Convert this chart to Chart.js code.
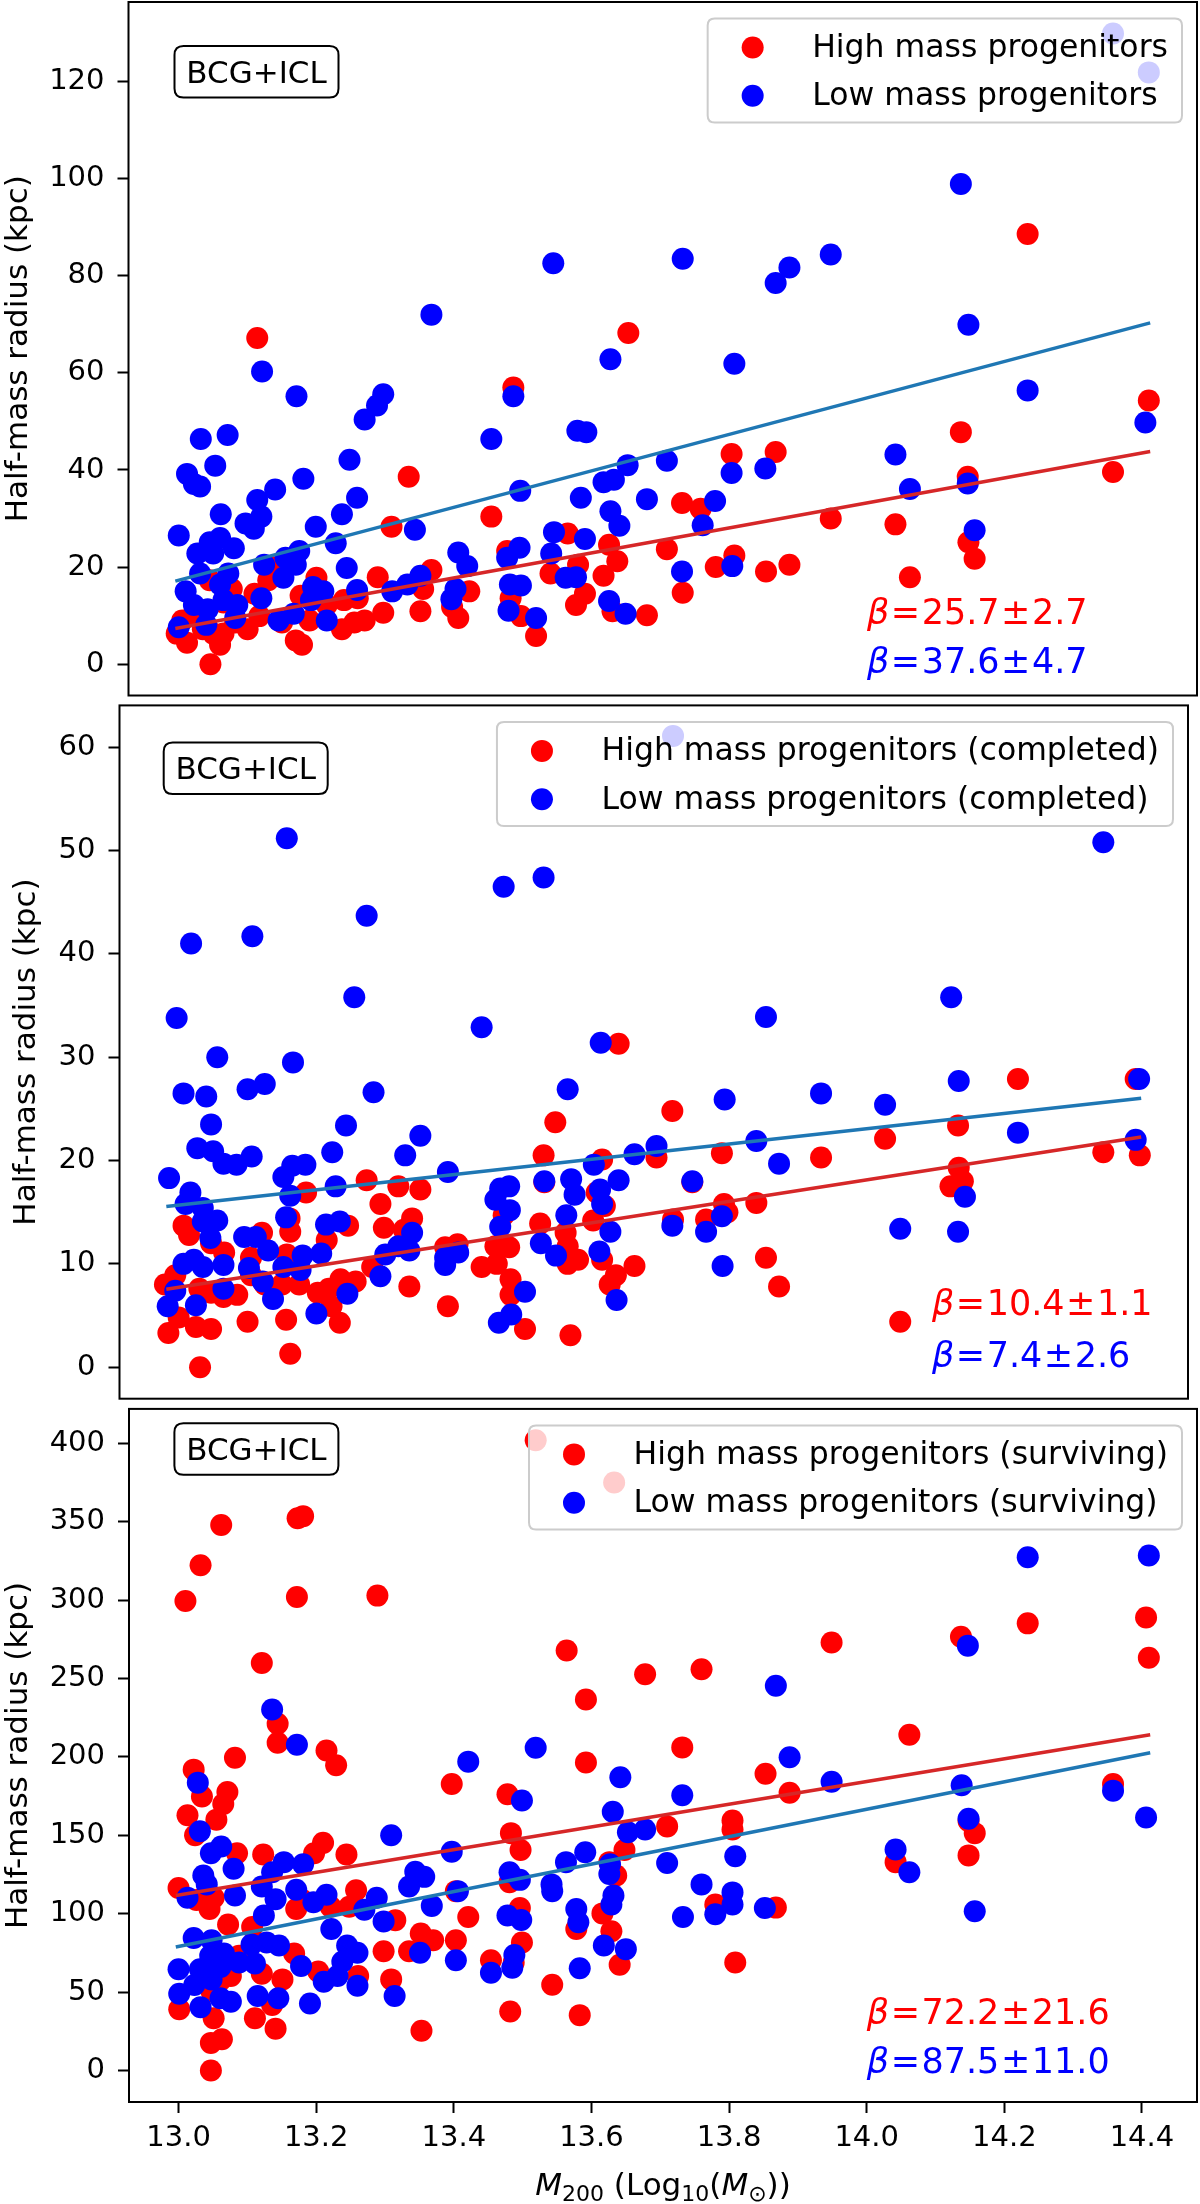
<!DOCTYPE html>
<html lang="en">
<head>
<meta charset="UTF-8">
<title>Half-mass radius vs M200</title>
<style>
  body { margin: 0; background: #fff; }
  .panel { position: absolute; left: 0; width: 1200px; }
  .panel canvas { display: block; }
</style>
<script src="https://cdn.jsdelivr.net/npm/chart.js"></script>
</head>
<body>
<div class="panel" style="top:0;height:700px"><canvas id="c1" width="1200" height="700"></canvas></div>
<div class="panel" style="top:700px;height:700px"><canvas id="c2" width="1200" height="700"></canvas></div>
<div class="panel" style="top:1400px;height:804px"><canvas id="c3" width="1200" height="804"></canvas></div>
<script>
// shared x axis
const xRange = [12.928, 14.48];
const xTicks = [13.0, 13.2, 13.4, 13.6, 13.8, 14.0, 14.2, 14.4];
const fitX = [12.996, 14.412];

// panel 1 : all progenitors
const hi1 = [[13.115,67.2],[13.335,38.6],[13.31,28.3],[13.455,30.4],[13.487,57.0],[13.654,68.2],[13.29,17.9],[13.368,19.4],[13.566,26.9],[13.626,24.6],[13.638,21.2],[13.541,18.7],[13.618,18.2],[13.581,20.5],[13.591,14.5],[13.578,12.2],[13.483,13.6],[13.498,9.9],[13.481,11.3],[13.52,5.8],[13.631,10.9],[13.423,15.0],[13.407,9.5],[13.398,11.8],[13.352,10.9],[13.356,15.5],[13.298,10.6],[13.271,9.0],[13.256,8.6],[13.238,7.2],[13.261,13.6],[13.241,13.2],[13.216,12.2],[13.201,17.8],[13.18,4.0],[13.171,4.9],[13.191,9.0],[13.178,14.1],[13.136,20.0],[13.151,8.6],[13.118,9.9],[13.111,14.5],[13.101,7.2],[13.083,8.6],[13.061,4.0],[13.047,0.0],[13.051,6.3],[13.036,7.2],[13.013,4.4],[12.998,6.3],[13.021,9.9],[13.066,12.7],[13.078,15.5],[13.046,17.3],[13.006,9.0],[13.066,6.3],[13.031,9.5],[13.206,14.5],[13.131,17.3],[13.478,23.3],
  [14.234,88.6],[14.41,54.3],[14.137,47.8],[13.804,43.3],[13.868,43.7],[13.732,33.2],[13.759,32.0],[14.147,38.6],[14.358,39.6],[13.948,30.0],[14.042,28.8],[13.71,23.7],[13.808,22.4],[13.781,20.0],[13.854,19.1],[13.888,20.5],[13.733,14.7],[13.681,10.1],[14.148,25.1],[14.157,21.7],[14.063,17.9]];
const lo1 = [[13.545,82.6],[13.368,72.0],[13.628,62.8],[13.487,55.2],[13.122,60.3],[13.172,55.2],[13.298,55.6],[13.289,53.3],[13.271,50.4],[13.033,46.4],[13.072,47.2],[13.455,46.4],[13.58,48.1],[13.593,47.8],[13.054,40.9],[13.013,39.2],[13.023,37.1],[13.032,36.6],[13.249,42.1],[13.182,38.2],[13.141,36.0],[13.115,33.8],[13.653,41.0],[13.618,37.5],[13.633,38.0],[13.497,35.7],[13.26,34.3],[13.585,34.3],[13.681,34.0],[13.062,30.9],[13.001,26.5],[13.098,29.0],[13.121,30.4],[13.11,27.9],[13.2,28.3],[13.238,30.9],[13.229,24.9],[13.344,27.7],[13.628,31.5],[13.641,28.5],[13.546,27.2],[13.591,25.8],[13.028,22.8],[13.046,25.1],[13.061,26.0],[13.081,23.9],[13.051,22.8],[13.032,18.7],[13.073,18.7],[13.011,15.0],[13.061,16.4],[13.023,12.2],[13.043,11.3],[13.066,13.2],[13.086,12.2],[13.001,7.6],[13.041,8.1],[13.083,9.5],[13.125,20.5],[13.156,21.9],[13.176,23.3],[13.171,20.5],[13.153,17.8],[13.121,13.6],[13.146,9.0],[13.168,10.4],[13.196,15.9],[13.211,15.0],[13.193,13.2],[13.216,9.0],[13.245,19.8],[13.26,15.3],[13.311,15.0],[13.333,16.4],[13.352,18.2],[13.407,23.0],[13.42,20.2],[13.403,15.5],[13.397,13.4],[13.478,21.9],[13.496,24.0],[13.542,22.8],[13.563,17.8],[13.578,17.9],[13.482,16.4],[13.498,16.2],[13.48,11.0],[13.52,9.5],[13.626,13.0],[13.65,10.4],
  [14.358,129.9],[14.41,121.9],[14.137,98.9],[13.948,84.4],[13.733,83.5],[13.888,81.7],[13.868,78.5],[14.148,69.9],[13.808,61.9],[14.234,56.4],[14.405,49.8],[13.71,41.9],[14.042,43.2],[13.804,39.4],[13.853,40.3],[13.78,33.6],[13.762,28.6],[14.063,36.1],[14.147,37.2],[14.157,27.6],[13.732,19.1],[13.805,20.2]];
const fitHi1 = [7.35, 43.8];
const fitLo1 = [17.1, 70.3];
const yTicks1 = [0, 20, 40, 60, 80, 100, 120];
const names1 = ['High mass progenitors', 'Low mass progenitors'];
const betas1 = ['25.7±2.7', '37.6±4.7'];

// panel 2 : completed
const hi2 = [[13.561,23.7],[13.653,31.3],[13.544,20.5],[13.629,20.1],[13.287,18.1],[13.333,17.5],[13.365,17.2],[13.199,16.9],[13.545,17.9],[13.621,16.9],[13.307,15.8],[13.175,14.4],[13.021,13.7],[13.353,14.4],[13.486,14.7],[13.26,13.7],[13.312,13.5],[13.341,13.3],[13.029,12.8],[13.176,13.1],[13.135,13.0],[13.229,12.3],[13.539,13.9],[13.576,13.0],[13.616,14.2],[13.633,15.6],[13.061,12.0],[13.08,11.1],[13.119,10.6],[13.171,10.9],[13.401,11.6],[13.419,11.9],[13.474,11.7],[13.494,11.6],[13.579,11.7],[13.594,10.4],[13.579,10.0],[13.629,10.4],[13.676,9.8],[13.649,8.9],[13.64,8.0],[13.454,9.7],[13.476,10.0],[13.295,9.7],[13.271,8.3],[13.249,8.5],[13.232,7.6],[13.216,7.2],[13.189,8.0],[13.164,8.0],[13.139,8.0],[13.119,8.9],[13.099,7.0],[13.079,6.8],[13.061,7.2],[13.044,7.6],[13.009,8.9],[12.994,8.0],[13.014,4.8],[12.999,3.3],[13.039,3.9],[13.061,3.7],[13.114,4.4],[13.17,4.6],[13.176,1.3],[13.045,0.0],[13.236,5.9],[13.248,4.3],[13.349,7.8],[13.405,5.9],[13.496,8.5],[13.496,7.0],[13.517,3.7],[13.583,3.1],
  [14.233,27.9],[14.404,27.9],[13.731,24.8],[14.146,23.4],[14.04,22.1],[13.708,20.3],[13.803,20.7],[13.947,20.3],[14.357,20.8],[14.41,20.5],[14.147,19.3],[14.135,17.5],[14.153,18.0],[13.76,17.9],[13.806,15.8],[13.853,15.9],[13.732,14.3],[13.78,14.3],[13.811,15.0],[13.867,10.6],[13.886,7.8],[14.062,4.4]];
const lo2 = [[13.171,51.2],[13.486,46.5],[13.544,47.4],[13.287,43.7],[13.032,41.0],[13.121,41.7],[13.269,35.8],[13.011,33.8],[13.454,32.9],[13.627,31.4],[13.07,30.0],[13.18,29.5],[13.021,26.5],[13.054,26.2],[13.114,26.9],[13.139,27.4],[13.297,26.6],[13.579,26.9],[13.061,23.5],[13.257,23.4],[13.365,22.4],[13.041,21.2],[13.064,20.9],[13.079,19.7],[13.098,19.6],[13.12,20.4],[13.237,20.8],[13.343,20.5],[13.0,18.3],[13.166,18.4],[13.179,19.5],[13.198,19.6],[13.031,16.9],[13.024,15.8],[13.049,15.4],[13.405,18.9],[13.617,19.6],[13.676,20.6],[13.545,18.0],[13.584,18.2],[13.653,18.1],[13.626,17.2],[13.589,16.7],[13.481,17.3],[13.494,17.5],[13.474,16.2],[13.495,15.2],[13.629,15.8],[13.176,16.6],[13.242,17.5],[13.049,14.1],[13.07,14.2],[13.17,14.5],[13.228,13.8],[13.248,14.1],[13.577,14.7],[13.481,13.6],[13.641,13.1],[13.06,12.5],[13.353,13.0],[13.109,12.6],[13.126,12.6],[13.144,11.3],[13.54,12.0],[13.562,10.8],[13.625,11.2],[13.021,10.0],[13.036,10.4],[13.049,9.7],[13.079,9.9],[13.116,9.6],[13.166,9.7],[13.194,10.8],[13.221,11.0],[13.191,9.4],[13.314,10.9],[13.333,11.7],[13.349,11.3],[13.401,10.6],[13.42,11.1],[13.401,9.9],[13.307,8.8],[13.009,7.4],[13.079,7.6],[13.136,8.3],[13.151,6.6],[13.259,7.1],[12.998,5.9],[13.039,6.0],[13.517,7.3],[13.65,6.5],[13.497,5.1],[13.479,4.3],[13.214,5.2],
  [13.732,61.1],[14.357,50.8],[14.136,35.8],[13.867,33.9],[13.807,25.9],[13.947,26.5],[14.04,25.4],[14.147,27.7],[14.409,27.9],[14.233,22.7],[14.404,22.0],[13.708,21.4],[13.853,21.9],[13.886,19.7],[13.76,18.0],[13.803,14.6],[13.731,13.7],[13.78,13.1],[14.156,16.5],[14.062,13.4],[14.146,13.1],[13.804,9.8]];
const fitHi2 = [7.54, 22.28];
const fitLo2 = [15.56, 26.03];
const yTicks2 = [0, 10, 20, 30, 40, 50, 60];
const names2 = ['High mass progenitors (completed)', 'Low mass progenitors (completed)'];
const betas2 = ['10.4±1.1', '7.4±2.6'];

// panel 3 : surviving
const hi3 = [[13.519,402],[13.633,375],[13.062,347.9],[13.181,353.6],[13.173,352.2],[13.032,322.3],[13.01,299.5],[13.172,302],[13.289,302.9],[13.121,259.9],[13.564,267.9],[13.678,252.8],[13.592,236.6],[13.144,221.2],[13.144,209],[13.215,204.1],[13.229,194.7],[13.082,199.5],[13.022,191.9],[13.034,174.8],[13.071,177.6],[13.065,170],[13.055,160],[13.013,162.8],[13.024,150],[13.397,182.8],[13.478,176.2],[13.592,196.4],[13.483,151.4],[13.497,140.6],[13.085,138.6],[13.123,137.8],[13.21,145.2],[13.197,138.6],[13.244,137.8],[13.0,116.4],[13.026,108.7],[13.045,103],[13.051,110.2],[13.171,103],[13.18,108.7],[13.258,115],[13.221,104.5],[13.248,104.5],[13.315,95.9],[13.403,114.4],[13.421,97.9],[13.496,103.6],[13.481,120.1],[13.616,100.2],[13.629,88.8],[13.636,124.4],[13.648,140.6],[13.626,132.9],[13.578,90.2],[13.072,93.1],[13.107,91.6],[13.352,87.4],[13.37,83.1],[13.403,83.1],[13.499,81.7],[13.298,76],[13.335,76],[13.641,67.5],[13.454,70.3],[13.487,68.9],[13.168,74.6],[13.203,63.2],[13.261,60.3],[13.309,58.1],[13.151,58.1],[13.121,61.7],[13.088,73.2],[13.076,60.3],[13.048,50.4],[13.061,57.5],[13.001,39],[13.051,33.3],[13.111,33.3],[13.136,41.8],[13.141,26.7],[13.047,17.6],[13.063,19.9],[13.047,0],[13.353,25.3],[13.482,37.6],[13.543,54.7],[13.583,35.3],
  [14.234,285.2],[14.406,289],[14.41,263.3],[14.137,276.7],[13.949,273],[13.76,255.9],[14.062,214.1],[13.732,206.1],[13.853,189.3],[13.888,177.1],[14.358,182.8],[13.71,155.7],[13.805,159.4],[13.805,153.7],[14.148,159.1],[14.157,151.4],[14.148,137.2],[14.042,132.9],[13.78,105.9],[13.868,103.9],[13.809,68.9]];
const lo3 = [[13.136,230.3],[13.172,207.8],[13.519,205.8],[13.421,197],[13.642,187],[13.028,183.6],[13.499,172.2],[13.631,165.1],[13.031,152.6],[13.309,150],[13.062,142.9],[13.047,138.6],[13.397,139.5],[13.591,139.2],[13.563,132.9],[13.653,152],[13.678,153.7],[13.08,128.7],[13.036,124.4],[13.041,118.7],[13.013,110.2],[13.153,132.9],[13.136,126.4],[13.181,131.5],[13.121,117.3],[13.141,109.3],[13.171,115.3],[13.082,111.6],[13.215,112.1],[13.196,107.3],[13.344,126.7],[13.357,123.5],[13.335,117.3],[13.481,126.4],[13.496,121.6],[13.627,131.5],[13.626,125.3],[13.406,114.4],[13.542,118.7],[13.543,114.4],[13.288,110.2],[13.27,102.5],[13.368,105],[13.632,111.6],[13.629,105.9],[13.124,98.8],[13.222,90.2],[13.298,95.1],[13.578,103],[13.581,94.5],[13.478,98.8],[13.498,96],[13.022,84.5],[13.048,83.1],[13.106,80.3],[13.128,81.7],[13.146,79.7],[13.618,79.7],[13.65,77.4],[13.245,79.7],[13.26,75.1],[13.046,73.2],[13.066,74.6],[13.088,68.9],[13.111,68.3],[13.0,64.6],[13.031,64.6],[13.061,66.0],[13.178,66.6],[13.238,69.4],[13.231,60.3],[13.351,75.1],[13.403,70.3],[13.488,73.7],[13.485,65.5],[13.454,62.3],[13.583,65.2],[13.023,54.6],[13.048,58.1],[13.001,48.9],[13.061,46.1],[13.076,43.8],[13.115,47.5],[13.145,46.1],[13.211,56.6],[13.26,54.1],[13.032,40.4],[13.191,42.7],[13.314,47.5],
  [14.234,327.4],[14.41,328.5],[14.147,271],[13.868,245.4],[13.888,199.8],[13.949,184.2],[14.138,181.9],[14.358,178.5],[13.732,175.6],[14.148,160.6],[14.406,161.4],[13.71,132.4],[13.809,136.6],[14.042,140.9],[14.062,126.4],[13.76,118.7],[13.805,113.6],[13.805,105.9],[13.852,103.6],[13.733,97.9],[13.78,99.6],[14.157,101.6]];
const fitHi3 = [111.6, 214.1];
const fitLo3 = [78.8, 202.7];
const yTicks3 = [0, 50, 100, 150, 200, 250, 300, 350, 400];
const names3 = ['High mass progenitors (surviving)', 'Low mass progenitors (surviving)'];
const betas3 = ['72.2±21.6', '87.5±11.0'];

const RED = '#ff0000', BLUE = '#0000ff';
const RED_FIT = '#d62728', BLUE_FIT = '#1f77b4';
const FONT = 'DejaVu Sans';

Chart.defaults.font.family = FONT;
Chart.defaults.color = '#000';

function roundRect(ctx, x, y, w, h, r) {
    ctx.beginPath();
    ctx.moveTo(x + r, y);
    ctx.lineTo(x + w - r, y);
    ctx.quadraticCurveTo(x + w, y, x + w, y + r);
    ctx.lineTo(x + w, y + h - r);
    ctx.quadraticCurveTo(x + w, y + h, x + w - r, y + h);
    ctx.lineTo(x + r, y + h);
    ctx.quadraticCurveTo(x, y + h, x, y + h - r);
    ctx.lineTo(x, y + r);
    ctx.quadraticCurveTo(x, y, x + r, y);
    ctx.closePath();
}

// draws a list of text pieces one after another, returns the total width
function drawPieces(ctx, pieces, x, y, measureOnly) {
    let cx = x;
    pieces.forEach(p => {
        ctx.font = p.font;
        cx += p.gap || 0;
        if (!measureOnly) ctx.fillText(p.t, cx, y + (p.dy || 0));
        cx += ctx.measureText(p.t).width + (p.gapAfter || 0);
    });
    return cx - x;
}

function decor(cfg) {
    return {
        id: 'decor',
        afterDraw(chart) {
            const ctx = chart.ctx;
            const a = chart.chartArea;
            ctx.save();

            // axes frame
            ctx.strokeStyle = '#000';
            ctx.lineWidth = 2;
            ctx.strokeRect(a.left, a.top, a.right - a.left, a.bottom - a.top);

            // BCG+ICL tag
            const tx = a.left + cfg.tag[0], ty = a.top + cfg.tag[1];
            roundRect(ctx, tx, ty, 164, 51.5, 9);
            ctx.fillStyle = '#fff';
            ctx.fill();
            ctx.lineWidth = 2;
            ctx.strokeStyle = '#000';
            ctx.stroke();
            ctx.fillStyle = '#000';
            ctx.font = '31px "' + FONT + '"';
            ctx.textAlign = 'center';
            ctx.textBaseline = 'alphabetic';
            ctx.fillText('BCG+ICL', tx + 82, ty + 25.75 + 11.3);

            // slope labels
            ctx.textAlign = 'left';
            const bfont = '35px "' + FONT + '"';
            [RED, BLUE].forEach((col, i) => {
                const parts = cfg.betas[i].split('±');
                ctx.fillStyle = col;
                drawPieces(ctx, [
                    { t: 'β', font: 'italic ' + bfont },
                    { t: '=', font: bfont, gap: 1.5, gapAfter: 1.5 },
                    { t: parts[0], font: bfont },
                    { t: '±', font: bfont, gap: 1.5, gapAfter: 1.5 },
                    { t: parts[1], font: bfont }
                ], a.left + cfg.beta[0], a.bottom - cfg.beta[i + 1] + 12.5);
            });

            // legend
            ctx.font = '31.5px "' + FONT + '"';
            const tw = Math.max(...cfg.names.map(n => ctx.measureText(n).width));
            const bw = 104.5 + tw + 14, bh = 104;
            const bx = a.right - 15 - bw, by = a.top + 16.5;
            roundRect(ctx, bx, by, bw, bh, 7);
            ctx.fillStyle = 'rgba(255,255,255,0.8)';
            ctx.fill();
            ctx.strokeStyle = '#cccccc';
            ctx.lineWidth = 2;
            ctx.stroke();
            [RED, BLUE].forEach((col, i) => {
                const ry = by + 29 + i * 48.3;
                ctx.beginPath();
                ctx.arc(bx + 45, ry, 11, 0, Math.PI * 2);
                ctx.fillStyle = col;
                ctx.fill();
                ctx.fillStyle = '#000';
                ctx.fillText(cfg.names[i], bx + 104.5, ry + 9.5);
            });

            // x axis title (bottom panel only)
            if (cfg.showX) {
                const big = '31px "' + FONT + '"', it = 'italic ' + big, small = '22px "' + FONT + '"';
                const pieces = [
                    { t: 'M', font: it },
                    { t: '200', font: small, dy: 6 },
                    { t: ' (Log', font: big },
                    { t: '10', font: small, dy: 6 },
                    { t: '(', font: big },
                    { t: 'M', font: it },
                    { t: '⊙', font: small, dy: 6 },
                    { t: '))', font: big }
                ];
                const w = drawPieces(ctx, pieces, 0, 0, true);
                ctx.fillStyle = '#000';
                drawPieces(ctx, pieces, (a.left + a.right) / 2 - w / 2, cfg.xTitleY);
            }
            ctx.restore();
        }
    };
}

function makePanel(id, cfg) {
    const canvas = document.getElementById(id);
    const H = canvas.height;
    const xAxisH = cfg.showX ? H - cfg.area.bottom : 0;
    const toPts = arr => arr.map(p => ({ x: p[0], y: p[1] }));
    const tickGrid = { drawOnChartArea: false, drawTicks: true, tickLength: 11, tickColor: '#000', tickWidth: 2 };

    new Chart(canvas.getContext('2d'), {
        type: 'scatter',
        data: {
            datasets: [
                { type: 'line', label: 'fit high', data: fitX.map((x, i) => ({ x, y: cfg.fitHi[i] })),
                  borderColor: RED_FIT, borderWidth: 3.5, pointRadius: 0, fill: false, order: 0 },
                { type: 'line', label: 'fit low', data: fitX.map((x, i) => ({ x, y: cfg.fitLo[i] })),
                  borderColor: BLUE_FIT, borderWidth: 3.5, pointRadius: 0, fill: false, order: 0 },
                { label: cfg.names[1], data: toPts(cfg.lo), backgroundColor: BLUE,
                  pointRadius: 11, borderWidth: 0, order: 1 },
                { label: cfg.names[0], data: toPts(cfg.hi), backgroundColor: RED,
                  pointRadius: 11, borderWidth: 0, order: 2 }
            ]
        },
        options: {
            responsive: false,
            animation: false,
            events: [],
            layout: {
                autoPadding: false,
                padding: { left: 0, right: 1200 - cfg.area.right, top: cfg.area.top,
                           bottom: cfg.showX ? 0 : H - cfg.area.bottom }
            },
            plugins: { legend: { display: false }, tooltip: { enabled: false } },
            scales: {
                x: {
                    type: 'linear',
                    min: xRange[0],
                    max: xRange[1],
                    display: cfg.showX,
                    afterBuildTicks: s => { s.ticks = xTicks.map(v => ({ value: v })); },
                    afterFit: s => { s.height = xAxisH; s.paddingLeft = 0; s.paddingRight = 0; },
                    grid: tickGrid,
                    border: { display: false },
                    ticks: { color: '#000', font: { size: 29 }, padding: 8, maxRotation: 0, autoSkip: false,
                             callback: v => v.toFixed(1) }
                },
                y: {
                    type: 'linear',
                    min: cfg.yRange[0],
                    max: cfg.yRange[1],
                    afterBuildTicks: s => { s.ticks = cfg.yTicks.map(v => ({ value: v })); },
                    afterFit: s => { s.width = cfg.area.left; s.paddingTop = 0; s.paddingBottom = 0; },
                    grid: tickGrid,
                    border: { display: false },
                    ticks: { color: '#000', font: { size: 29 }, padding: 13, autoSkip: false },
                    title: { display: true, text: 'Half-mass radius (kpc)', color: '#000',
                             font: { size: 31 }, padding: { top: cfg.titlePad, bottom: 0 } }
                }
            }
        },
        plugins: [decor(cfg)]
    });
}

makePanel('c1', {
    hi: hi1, lo: lo1, fitHi: fitHi1, fitLo: fitLo1, yTicks: yTicks1, names: names1, betas: betas1,
    yRange: [-6.45, 136.4], area: { left: 128.5, right: 1197, top: 2, bottom: 695.5 },
    tag: [46, 44], beta: [738.5, 84, 35.5], titlePad: 0, showX: false
});
makePanel('c2', {
    hi: hi2, lo: lo2, fitHi: fitHi2, fitLo: fitLo2, yTicks: yTicks2, names: names2, betas: betas2,
    yRange: [-3.05, 64.05], area: { left: 119.5, right: 1188, top: 5.4, bottom: 698.7 },
    tag: [44.2, 37], beta: [812.5, 96, 44.7], titlePad: 8, showX: false
});
makePanel('c3', {
    hi: hi3, lo: lo3, fitHi: fitHi3, fitLo: fitLo3, yTicks: yTicks3, names: names3, betas: betas3,
    yRange: [-20.1, 422], area: { left: 129, right: 1197, top: 8.9, bottom: 702 },
    tag: [45.4, 14.3], beta: [737.8, 90.4, 41.3], titlePad: 0, showX: true, xTitleY: 795
});
</script>
</body>
</html>
